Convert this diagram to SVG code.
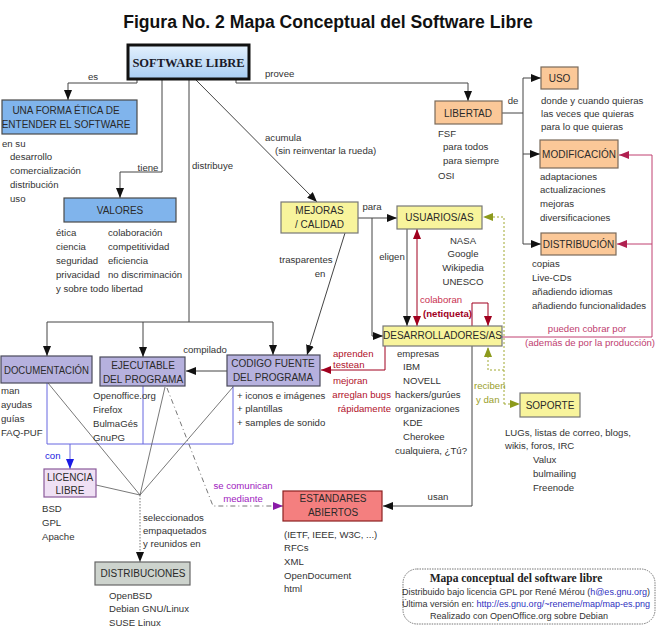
<svg xmlns="http://www.w3.org/2000/svg" width="657" height="636" viewBox="0 0 657 636">
<defs>
<linearGradient id="gSL" x1="0" y1="0" x2="0" y2="1"><stop offset="0" stop-color="#e4f1fd"/><stop offset="1" stop-color="#a8cdf3"/></linearGradient>
<marker id="ak" viewBox="0 0 10 8" refX="10" refY="4" markerWidth="10" markerHeight="8" markerUnits="userSpaceOnUse" orient="auto"><path d="M0,0 L10,4 L0,8 z" fill="#111"/></marker>
<marker id="ar" viewBox="0 0 10 8" refX="10" refY="4" markerWidth="10" markerHeight="8" markerUnits="userSpaceOnUse" orient="auto"><path d="M0,0 L10,4 L0,8 z" fill="#a0001e"/></marker>
<marker id="ars" viewBox="0 0 10 8" refX="0" refY="4" markerWidth="10" markerHeight="8" markerUnits="userSpaceOnUse" orient="auto"><path d="M10,0 L0,4 L10,8 z" fill="#a0001e"/></marker>
<marker id="ab" viewBox="0 0 10 8" refX="10" refY="4" markerWidth="10" markerHeight="8" markerUnits="userSpaceOnUse" orient="auto"><path d="M0,0 L10,4 L0,8 z" fill="#1a1ae6"/></marker>
<marker id="ao" viewBox="0 0 10 8" refX="10" refY="4" markerWidth="10" markerHeight="8" markerUnits="userSpaceOnUse" orient="auto"><path d="M0,0 L10,4 L0,8 z" fill="#8c9a1c"/></marker>
<marker id="ap" viewBox="0 0 10 8" refX="10" refY="4" markerWidth="10" markerHeight="8" markerUnits="userSpaceOnUse" orient="auto"><path d="M0,0 L10,4 L0,8 z" fill="#8a1aa8"/></marker>
<marker id="am" viewBox="0 0 10 8" refX="10" refY="4" markerWidth="10" markerHeight="8" markerUnits="userSpaceOnUse" orient="auto"><path d="M0,0 L10,4 L0,8 z" fill="#b02050"/></marker>
</defs>
<style>
.tx{font-family:"Liberation Sans",Arial,sans-serif;font-size:9.6px;fill:#333}
.nd{font-family:"Liberation Sans",Arial,sans-serif;font-size:10px;fill:#2a2a2a;text-anchor:middle}
.mid{text-anchor:middle}
.end{text-anchor:end}
.c{fill:none;stroke:#444;stroke-width:1}
.cr{fill:none;stroke:#a0001e;stroke-width:1}
.cm{fill:none;stroke:#c04070;stroke-width:1}
.cb{fill:none;stroke:#6666e0;stroke-width:1}
.co{fill:none;stroke:#a0a830;stroke-width:1;stroke-dasharray:2,2}
.cf{fill:none;stroke:#555;stroke-width:0.8}
.blue{fill:#80b4ec;stroke:#4a4a4a;stroke-width:1.2}
.lav{fill:#b6b1de;stroke:#4a4a5a;stroke-width:1.2}
.yel{fill:#f8f49c;stroke:#777;stroke-width:1.2}
.ora{fill:#fbc898;stroke:#7a6a5a;stroke-width:1.2}
.red{fill:#b0102a}
.pink{fill:#c04070}
</style>
<rect width="657" height="636" fill="#fff"/>
<text x="328" y="28" text-anchor="middle" style="font-family:'Liberation Sans',Arial,sans-serif;font-size:17.6px;font-weight:bold;fill:#111">Figura No. 2 Mapa Conceptual del Software Libre</text>

<g id="connectors">
<polyline class="c" points="137,79 137,83 68,83 68,100" marker-end="url(#ak)"/>
<text class="tx mid" x="93" y="80">es</text>
<polyline class="c" points="162,79 162,172 120,172 120,198" marker-end="url(#ak)"/>
<text class="tx mid" x="148" y="171">tiene</text>
<line class="c" x1="189" y1="79" x2="189" y2="322"/>
<text class="tx" x="192" y="169">distribuye</text>
<line class="c" x1="47" y1="322" x2="273" y2="322"/>
<line class="c" x1="47" y1="322" x2="47" y2="356" marker-end="url(#ak)"/>
<line class="c" x1="143" y1="322" x2="143" y2="357" marker-end="url(#ak)"/>
<line class="c" x1="273" y1="322" x2="273" y2="355" marker-end="url(#ak)"/>
<polyline class="c" points="236,79 236,83 468,83 468,101" marker-end="url(#ak)"/>
<text class="tx" x="265" y="77">provee</text>
<line class="c" x1="195" y1="79" x2="317" y2="202" marker-end="url(#ak)"/>
<text class="tx" x="265" y="141">acumula</text>
<text class="tx" x="275" y="154">(sin reinventar la rueda)</text>
<line class="c" x1="502" y1="113" x2="523" y2="113"/>
<line class="c" x1="523" y1="78" x2="523" y2="244"/>
<line class="c" x1="523" y1="78" x2="541" y2="78" marker-end="url(#ak)"/>
<line class="c" x1="523" y1="154" x2="540" y2="154" marker-end="url(#ak)"/>
<line class="c" x1="523" y1="244" x2="541" y2="244" marker-end="url(#ak)"/>
<text class="tx mid" x="513" y="104">de</text>
<line class="c" x1="358" y1="218" x2="397" y2="218" marker-end="url(#ak)"/>
<polyline class="c" points="372,218 372,336 383,336" marker-end="url(#ak)"/>
<text class="tx mid" x="372" y="210">para</text>
<line class="c" x1="407" y1="229" x2="407" y2="326" marker-end="url(#ak)"/>
<text class="tx mid" x="392" y="260">eligen</text>
<line class="cr" x1="417" y1="229" x2="417" y2="326" marker-start="url(#ars)" marker-end="url(#ar)"/>
<polyline class="cr" points="472,326 472,303 488,303 488,326" marker-end="url(#ar)"/>
<text x="420" y="303" style="font-family:'Liberation Sans',Arial,sans-serif;font-size:9.6px;fill:#c83050">colaboran</text>
<text x="423" y="317" style="font-family:'Liberation Sans',Arial,sans-serif;font-size:9.6px;font-weight:bold;fill:#a0001e">(netiqueta)</text>
<line class="c" x1="345" y1="233" x2="307" y2="355" marker-end="url(#ak)"/>
<text class="tx mid" x="306" y="263">trasparentes</text>
<text class="tx mid" x="320" y="277">en</text>
<line class="c" x1="227" y1="371" x2="186" y2="371" marker-end="url(#ak)"/>
<text class="tx mid" x="205" y="353">compilado</text>
<polyline class="cr" points="385,346 385,370 321,370" marker-end="url(#ar)"/>
<text class="tx red" x="333" y="357">aprenden</text>
<text class="tx red" x="333" y="368">testean</text>
<text class="tx red" x="333" y="384">mejoran</text>
<text class="tx red end" x="391" y="398">arreglan bugs</text>
<text class="tx red end" x="391" y="412">rápidamente</text>
<polyline class="cb" points="47,383 47,444 233,444 233,386"/>
<line class="cb" x1="143" y1="386" x2="143" y2="444"/>
<line class="cb" x1="70" y1="444" x2="70" y2="469" marker-end="url(#ab)"/>
<text x="45" y="459" style="font-family:'Liberation Sans',Arial,sans-serif;font-size:9.6px;fill:#2020e0">con</text>
<line class="cf" x1="48" y1="383" x2="140" y2="495"/>
<line class="cf" x1="165" y1="387" x2="140" y2="495"/>
<line class="cf" x1="233" y1="387" x2="140" y2="495"/>
<line class="cf" x1="96" y1="485" x2="140" y2="495"/>
<line class="cf" x1="140" y1="495" x2="140" y2="562" stroke-dasharray="1.5,1.5" marker-end="url(#ak)"/>
<text class="tx" x="143" y="521">seleccionados</text>
<text class="tx" x="143" y="534">empaquetados</text>
<text class="tx" x="143" y="547">y reunidos en</text>
<polyline points="167,388 213,506 283,506" fill="none" stroke="#777" stroke-width="1" stroke-dasharray="5,3,1,3" marker-end="url(#ap)"/>
<text x="243" y="489" text-anchor="middle" style="font-family:'Liberation Sans',Arial,sans-serif;font-size:9.6px;fill:#a020c0">se comunican</text>
<text x="243" y="502" text-anchor="middle" style="font-family:'Liberation Sans',Arial,sans-serif;font-size:9.6px;fill:#a020c0">mediante</text>
<polyline class="c" points="472,346 472,506 383,506" marker-end="url(#ak)"/>
<text class="tx mid" x="438" y="500">usan</text>
<polyline class="cm" points="502,337 652,337 652,155 619,155" marker-end="url(#am)"/>
<line class="cm" x1="652" y1="244" x2="617" y2="244" marker-end="url(#am)"/>
<text class="tx pink mid" x="587" y="332">pueden cobrar por</text>
<text class="tx pink mid" x="590" y="346">(además de por la producción)</text>
<polyline class="co" points="504,404 504,217 483,217" marker-end="url(#ao)"/>
<polyline class="co" points="504,370 488,370 488,347" marker-end="url(#ao)"/>
<line class="co" x1="504" y1="404" x2="520" y2="404" marker-end="url(#ao)"/>
<text x="474" y="389" style="font-family:'Liberation Sans',Arial,sans-serif;font-size:9.6px;fill:#9aa02a">reciben</text>
<text x="476" y="403" style="font-family:'Liberation Sans',Arial,sans-serif;font-size:9.6px;fill:#9aa02a">y dan</text>
</g>

<g id="software-libre">
<rect x="128" y="45" width="121" height="34" fill="url(#gSL)" stroke="#111" stroke-width="3"/>
<text x="188.5" y="67" text-anchor="middle" style="font-family:'Liberation Serif','Times New Roman',serif;font-size:12.5px;font-weight:bold;fill:#1a1a2a">SOFTWARE LIBRE</text>
</g>

<g id="forma-etica">
<rect class="blue" x="2" y="100" width="135" height="34"/>
<text class="nd" x="66" y="114">UNA FORMA ÉTICA DE</text>
<text class="nd" x="66" y="128">ENTENDER EL SOFTWARE</text>
<text class="tx" x="2" y="147">en su</text>
<text class="tx" x="10" y="160">desarrollo</text>
<text class="tx" x="10" y="174">comercialización</text>
<text class="tx" x="10" y="188">distribución</text>
<text class="tx" x="10" y="202">uso</text>
</g>

<g id="valores">
<rect class="blue" x="64" y="198" width="112" height="24"/>
<text class="nd" x="120" y="214">VALORES</text>
<text class="tx" x="56" y="236">ética</text>
<text class="tx" x="56" y="250">ciencia</text>
<text class="tx" x="56" y="264">seguridad</text>
<text class="tx" x="56" y="278">privacidad</text>
<text class="tx" x="56" y="292">y sobre todo libertad</text>
<text class="tx" x="108" y="236">colaboración</text>
<text class="tx" x="108" y="250">competitividad</text>
<text class="tx" x="108" y="264">eficiencia</text>
<text class="tx" x="108" y="278">no discriminación</text>
</g>

<g id="documentacion">
<rect class="lav" x="1" y="356" width="91" height="27"/>
<text class="nd" x="46.5" y="373.5" textLength="85" lengthAdjust="spacingAndGlyphs">DOCUMENTACIÓN</text>
<text class="tx" x="1" y="394">man</text>
<text class="tx" x="1" y="408">ayudas</text>
<text class="tx" x="1" y="422">guías</text>
<text class="tx" x="1" y="436">FAQ-PUF</text>
</g>

<g id="ejecutable">
<rect class="lav" x="100" y="357" width="85" height="29"/>
<text class="nd" x="143" y="369">EJECUTABLE</text>
<text class="nd" x="143" y="383">DEL PROGRAMA</text>
<text class="tx" x="93" y="399">Openoffice.org</text>
<text class="tx" x="93" y="413">Firefox</text>
<text class="tx" x="93" y="427">BulmaGés</text>
<text class="tx" x="93" y="441">GnuPG</text>
</g>

<g id="codigo-fuente">
<rect class="lav" x="227" y="355" width="93" height="31"/>
<text class="nd" x="273" y="367">CODIGO FUENTE</text>
<text class="nd" x="273" y="381">DEL PROGRAMA</text>
<text class="tx" x="237" y="399">+ iconos e imágenes</text>
<text class="tx" x="237" y="412">+ plantillas</text>
<text class="tx" x="237" y="426">+ samples de sonido</text>
</g>

<g id="licencia-libre">
<rect x="44" y="469" width="52" height="28" fill="#efe0f4" stroke="#8a5a9a" stroke-width="1.2"/>
<text class="nd" x="70" y="481">LICENCIA</text>
<text class="nd" x="70" y="494">LIBRE</text>
<text class="tx" x="42" y="512">BSD</text>
<text class="tx" x="42" y="526">GPL</text>
<text class="tx" x="42" y="540">Apache</text>
</g>

<g id="distribuciones">
<rect x="95" y="562" width="95" height="23" fill="#cdd3cd" stroke="#666" stroke-width="1.2"/>
<text class="nd" x="143" y="577">DISTRIBUCIONES</text>
<text class="tx" x="109" y="599">OpenBSD</text>
<text class="tx" x="109" y="612">Debian GNU/Linux</text>
<text class="tx" x="109" y="626">SUSE Linux</text>
</g>

<g id="estandares">
<rect x="283" y="491" width="99" height="30" fill="#f47f7f" stroke="#8a2020" stroke-width="1.2"/>
<text class="nd" x="333" y="502">ESTANDARES</text>
<text class="nd" x="333" y="516">ABIERTOS</text>
<text class="tx" x="284" y="538">(IETF, IEEE, W3C, ...)</text>
<text class="tx" x="284" y="551">RFCs</text>
<text class="tx" x="284" y="565">XML</text>
<text class="tx" x="284" y="579">OpenDocument</text>
<text class="tx" x="284" y="592">html</text>
</g>

<g id="libertad">
<rect class="ora" x="435" y="101" width="67" height="23"/>
<text class="nd" x="468" y="117">LIBERTAD</text>
<text class="tx" x="438" y="137">FSF</text>
<text class="tx" x="443" y="150">para todos</text>
<text class="tx" x="443" y="164">para siempre</text>
<text class="tx" x="438" y="179">OSI</text>
</g>

<g id="uso">
<rect class="ora" x="541" y="67" width="37" height="22"/>
<text class="nd" x="559.5" y="82">USO</text>
<text class="tx" x="541" y="104">donde y cuando quieras</text>
<text class="tx" x="541" y="117">las veces que quieras</text>
<text class="tx" x="541" y="130">para lo que quieras</text>
</g>

<g id="modificacion">
<rect class="ora" x="540" y="140" width="78" height="28"/>
<text class="nd" x="579" y="158">MODIFICACIÓN</text>
<text class="tx" x="540" y="180">adaptaciones</text>
<text class="tx" x="540" y="193">actualizaciones</text>
<text class="tx" x="540" y="207">mejoras</text>
<text class="tx" x="540" y="221">diversificaciones</text>
</g>

<g id="distribucion">
<rect class="ora" x="541" y="233" width="75" height="22"/>
<text class="nd" x="578.5" y="248">DISTRIBUCIÓN</text>
<text class="tx" x="532" y="267">copias</text>
<text class="tx" x="532" y="281">Live-CDs</text>
<text class="tx" x="532" y="295">añadiendo idiomas</text>
<text class="tx" x="532" y="309">añadiendo funcionalidades</text>
</g>

<g id="mejoras">
<rect class="yel" x="281" y="202" width="77" height="31"/>
<text class="nd" x="319.5" y="214">MEJORAS</text>
<text class="nd" x="319.5" y="228">/ CALIDAD</text>
</g>

<g id="usuarios">
<rect class="yel" x="397" y="206" width="85" height="23"/>
<text class="nd" x="439.5" y="221">USUARIOS/AS</text>
<text class="tx mid" x="463" y="244">NASA</text>
<text class="tx mid" x="463" y="257">Google</text>
<text class="tx mid" x="463" y="271">Wikipedia</text>
<text class="tx mid" x="463" y="285">UNESCO</text>
</g>

<g id="desarrolladores">
<rect class="yel" x="383" y="326" width="119" height="20"/>
<text class="nd" x="442.5" y="339">DESARROLLADORES/AS</text>
<text class="tx" x="397" y="357">empresas</text>
<text class="tx" x="403" y="370">IBM</text>
<text class="tx" x="403" y="384">NOVELL</text>
<text class="tx" x="395" y="398">hackers/gurúes</text>
<text class="tx" x="395" y="412">organizaciones</text>
<text class="tx" x="403" y="426">KDE</text>
<text class="tx" x="403" y="440">Cherokee</text>
<text class="tx" x="395" y="454">cualquiera, ¿Tú?</text>
</g>

<g id="soporte">
<rect class="yel" x="520" y="393" width="60" height="24"/>
<text class="nd" x="550" y="409">SOPORTE</text>
<text class="tx" x="505" y="436">LUGs, listas de correo, blogs,</text>
<text class="tx" x="505" y="449">wikis, foros, IRC</text>
<text class="tx" x="533" y="463">Valux</text>
<text class="tx" x="533" y="477">bulmailing</text>
<text class="tx" x="533" y="491">Freenode</text>
</g>

<g id="credits">
<rect x="403" y="569" width="252" height="55" rx="14" fill="#fff" stroke="#777" stroke-width="1" stroke-dasharray="1.5,1"/>
<text x="516" y="582" text-anchor="middle" style="font-family:'Liberation Serif','Times New Roman',serif;font-size:11.5px;font-weight:bold;fill:#222">Mapa conceptual del software libre</text>
<text x="402" y="595" textLength="248" lengthAdjust="spacingAndGlyphs" style="font-family:'Liberation Sans',Arial,sans-serif;font-size:9px;fill:#333">Distribuido bajo licencia GPL por René Mérou (<tspan fill="#3030c0">h@es.gnu.org</tspan>)</text>
<text x="402" y="607" textLength="248" lengthAdjust="spacingAndGlyphs" style="font-family:'Liberation Sans',Arial,sans-serif;font-size:9px;fill:#333">Última versión en: <tspan fill="#3030c0">http://es.gnu.org/~reneme/map/map-es.png</tspan></text>
<text x="519" y="619" text-anchor="middle" textLength="178" lengthAdjust="spacingAndGlyphs" style="font-family:'Liberation Sans',Arial,sans-serif;font-size:9px;fill:#333">Realizado con OpenOffice.org sobre Debian</text>
</g>
</svg>
